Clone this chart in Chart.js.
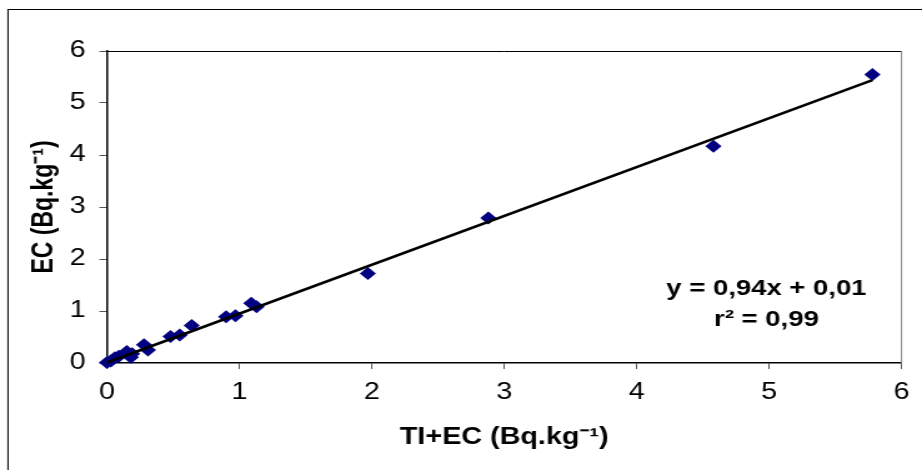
<!DOCTYPE html>
<html lang="en">
<head>
<meta charset="UTF-8">
<title>EC vs TI+EC</title>
<script src="https://cdn.jsdelivr.net/npm/chart.js"></script>
<style>
    body{
        margin:0;
        background:#fff;
    }
    #ecChart{
        display:block;
        width:922px;
        height:470px;
    }
</style>
</head>
<body>
<canvas id="ecChart" width="738" height="470" style="width:922px;height:470px"></canvas>
<script>
    // values
    const tiEc = [0.00, 0.03, 0.06, 0.09, 0.15, 0.19, 0.18, 0.28, 0.31, 0.48, 0.55, 0.64, 0.90, 0.97, 1.09, 1.13, 1.97, 2.88, 4.58, 5.78]
    const ec   = [0.01, 0.04, 0.10, 0.13, 0.22, 0.18, 0.11, 0.35, 0.25, 0.51, 0.54, 0.72, 0.89, 0.91, 1.15, 1.08, 1.72, 2.79, 4.17, 5.55]
    const trendX = [0, 5.78]
    const trendY = [0.01, 5.44]
    const eqLines = ["y = 0,94x + 0,01", "r\u00B2 = 0,99"]
    const eqPos = {x: 4.98, y: [1.42, 0.83]}

    const fontFam = "Arial, 'Liberation Sans', sans-serif"

    const points = tiEc.map((v, i) => ({x: v, y: ec[i]}))
    const trend = trendX.map((v, i) => ({x: v, y: trendY[i]}))

    const extras = {
        id: "extras",
        afterDraw(chart) {
            const ctx = chart.ctx
            const a = chart.chartArea
            ctx.save()
            // outer frame (only left and top edges fall inside the picture)
            ctx.strokeStyle = "#000"
            ctx.lineWidth = 1
            ctx.strokeRect(6.4, 9.5, 800, 600)
            // plot box top / right
            ctx.beginPath()
            ctx.moveTo(a.left, a.top + 0.5)
            ctx.lineTo(a.right, a.top + 0.5)
            ctx.stroke()
            ctx.strokeStyle = "#808080"
            ctx.beginPath()
            ctx.moveTo(a.right, a.top)
            ctx.lineTo(a.right, a.bottom)
            ctx.stroke()
            // regression text
            const xs = chart.scales.x, ys = chart.scales.y
            ctx.fillStyle = "#000"
            ctx.font = "bold 22px " + fontFam
            ctx.textAlign = "center"
            ctx.textBaseline = "middle"
            eqLines.forEach((t, i) => {
                ctx.fillText(t, xs.getPixelForValue(eqPos.x), ys.getPixelForValue(eqPos.y[i]))
            })
            ctx.restore()
        }
    }

    new Chart(document.getElementById("ecChart").getContext("2d"), {
        type: "scatter",
        data: {
            datasets: [
                {
                    label: "trend",
                    data: trend,
                    showLine: true,
                    borderColor: "#000",
                    borderWidth: 2.6,
                    pointRadius: 0,
                    fill: false,
                    clip: false
                },
                {
                    label: "EC",
                    data: points,
                    backgroundColor: "#000080",
                    borderColor: "#000080",
                    borderWidth: 0,
                    pointStyle: "rectRot",
                    pointRadius: 6.5,
                    clip: false
                }
            ]
        },
        options: {
            responsive: false,
            animation: false,
            layout: {padding: {top: 51, right: 15.6, bottom: 0, left: 0}},
            plugins: {
                legend: {display: false},
                tooltip: {enabled: false}
            },
            scales: {
                x: {
                    type: "linear",
                    min: 0,
                    max: 6,
                    afterFit: s => { s.height = 107 },
                    ticks: {stepSize: 1, color: "#000", padding: 10, font: {family: fontFam, size: 23}},
                    grid: {drawOnChartArea: false, drawTicks: true, tickLength: 6, color: "#555"},
                    border: {color: "#000", width: 1.5},
                    title: {
                        display: true,
                        text: "TI+EC (Bq.kg\u207B\u00B9)",
                        color: "#000",
                        font: {family: fontFam, size: 23, weight: "bold"},
                        padding: {top: 0, bottom: 19}
                    }
                },
                y: {
                    min: 0,
                    max: 6,
                    afterFit: s => { s.width = 85.6 },
                    ticks: {stepSize: 1, color: "#000", padding: 11, font: {family: fontFam, size: 23}},
                    grid: {drawOnChartArea: false, drawTicks: true, tickLength: 6, color: "#555"},
                    border: {color: "#000", width: 1.5},
                    title: {
                        display: true,
                        text: "EC (Bq.kg\u207B\u00B9)",
                        color: "#000",
                        font: {family: fontFam, size: 23, weight: "bold"},
                        padding: {top: 22, bottom: 0}
                    }
                }
            }
        },
        plugins: [extras]
    })
</script>
</body>
</html>
